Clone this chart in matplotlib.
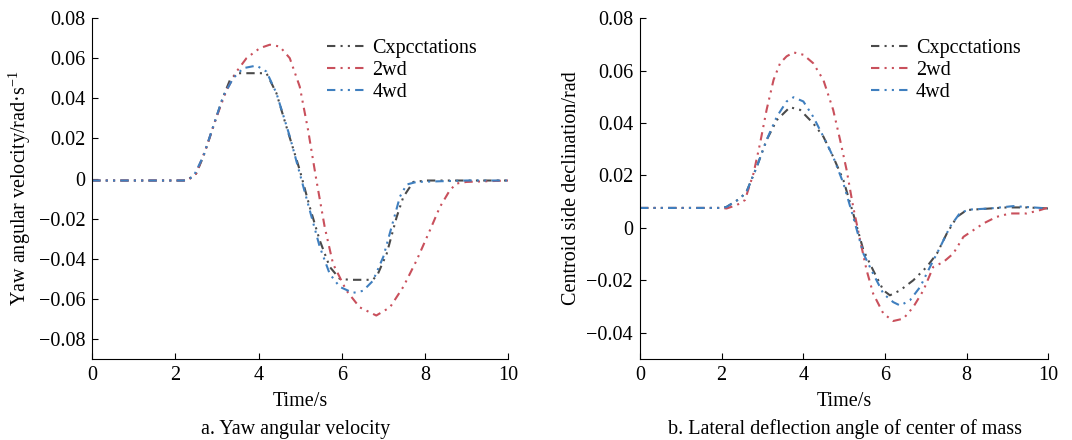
import matplotlib.pyplot as plt

plt.rcParams['font.family'] = ['Liberation Serif', 'DejaVu Serif']
plt.rcParams['mathtext.fontset'] = 'stix'
plt.rcParams['font.size'] = 14.5

labels = ['Cxpcctations', '2wd', '4wd']
colors = ['#4a4a4a', '#c9505c', '#3f7fbf']

# a. Yaw angular velocity
t_exp_a = [0, 1, 2.27, 2.5, 2.67, 2.91, 3.15, 3.31, 3.47, 3.7, 4.19, 4.43, 4.67, 4.99,
           5.23, 5.47, 5.71, 5.95, 6.19, 6.75, 6.87, 7.08, 7.32, 7.48, 7.72, 8.04, 9, 10]
y_exp_a = [-0.001, -0.001, -0.001, 0.0025, 0.0108, 0.0258, 0.0408, 0.049, 0.0525, 0.0525,
           0.0525, 0.0425, 0.0258, 0.0042, -0.0142, -0.0308, -0.044, -0.05, -0.0505,
           -0.0505, -0.0475, -0.0375, -0.0192, -0.0092, -0.0017, -0.001, -0.001, -0.001]

t_2wd_a = [0, 1, 2.3, 2.5, 2.75, 2.99, 3.23, 3.47, 3.71, 4.03, 4.27, 4.51, 4.75, 4.99,
           5.19, 5.39, 5.59, 5.79, 6.11, 6.43, 6.83, 7.16, 7.48, 7.8, 8.12, 8.36, 8.6,
           8.76, 9.0, 10]
y_2wd_a = [-0.001, -0.001, -0.001, 0.0025, 0.0158, 0.0308, 0.044, 0.0533, 0.06, 0.065,
           0.0667, 0.0658, 0.06, 0.0458, 0.0242, -0.0008, -0.0242, -0.0425, -0.0558,
           -0.0642, -0.0683, -0.0642, -0.054, -0.0408, -0.0258, -0.0142, -0.0058,
           -0.0025, -0.0017, -0.001]

t_4wd_a = [0, 1, 2.2, 2.43, 2.67, 2.91, 3.15, 3.39, 3.63, 3.95, 4.19, 4.43, 4.75, 4.99,
           5.23, 5.47, 5.71, 5.95, 6.27, 6.51, 6.75, 7.0, 7.24, 7.4, 7.56, 7.8, 9, 10]
y_4wd_a = [-0.001, -0.001, -0.001, 0.0008, 0.011, 0.026, 0.041, 0.05, 0.055, 0.0563,
           0.0533, 0.0425, 0.021, 0.0025, -0.0158, -0.034, -0.0475, -0.054, -0.057,
           -0.056, -0.051, -0.039, -0.021, -0.009, -0.003, -0.0017, -0.001, -0.001]

# b. Lateral deflection angle of center of mass
t_exp_b = [0, 1, 2.0, 2.12, 2.45, 2.61, 2.86, 3.1, 3.35, 3.67, 3.92, 4.24, 4.49, 4.73,
           4.98, 5.22, 5.47, 5.71, 5.96, 6.12, 6.37, 6.69, 7.02, 7.27, 7.51, 7.76, 8.0,
           8.57, 8.98, 9.47, 10]
y_exp_b = [0.0076, 0.0076, 0.0076, 0.008, 0.0112, 0.0138, 0.0233, 0.0335, 0.0411, 0.046,
           0.045, 0.0399, 0.0348, 0.0271, 0.0182, 0.0055, -0.0085, -0.0162, -0.0238,
           -0.0257, -0.0238, -0.02, -0.0149, -0.0098, -0.0022, 0.0042, 0.0068, 0.0074,
           0.0078, 0.0078, 0.0074]

t_2wd_b = [0, 1, 2.0, 2.12, 2.37, 2.57, 2.78, 2.94, 3.1, 3.27, 3.43, 3.59, 3.76, 4.0,
           4.24, 4.49, 4.73, 4.9, 5.06, 5.22, 5.39, 5.55, 5.71, 5.96, 6.2, 6.45, 6.69,
           6.94, 7.18, 7.43, 7.67, 7.92, 8.16, 8.41, 8.73, 9.06, 9.47, 9.8, 10]
y_2wd_b = [0.0076, 0.0076, 0.0076, 0.0074, 0.0087, 0.0106, 0.0208, 0.0322, 0.045, 0.0564,
           0.0628, 0.0654, 0.0669, 0.066, 0.0628, 0.0564, 0.045, 0.0335, 0.022, 0.008,
           -0.0047, -0.0162, -0.0251, -0.0327, -0.0355, -0.0346, -0.0302, -0.0238,
           -0.0149, -0.013, -0.0098, -0.0034, -0.0009, 0.0017, 0.0042, 0.0055, 0.0055,
           0.0068, 0.0078]

t_4wd_b = [0, 1, 2.0, 2.12, 2.45, 2.61, 2.86, 3.1, 3.35, 3.59, 3.76, 4.0, 4.24, 4.49,
           4.73, 4.98, 5.22, 5.47, 5.71, 5.96, 6.2, 6.37, 6.61, 6.86, 7.1, 7.35, 7.59,
           7.84, 8.08, 8.57, 9.14, 9.63, 10]
y_4wd_b = [0.0076, 0.0076, 0.0076, 0.008, 0.0112, 0.0138, 0.0233, 0.0335, 0.0424, 0.0482,
           0.0498, 0.0482, 0.0424, 0.0348, 0.0271, 0.017, 0.0042, -0.0098, -0.0175,
           -0.0251, -0.0283, -0.0296, -0.0276, -0.0225, -0.0149, -0.0073, 0.0004,
           0.0058, 0.007, 0.0074, 0.0083, 0.0078, 0.0074]

dash = (0, (4, 2.5, 1, 2.5, 1, 2.5))

fig = plt.figure(figsize=(10.72, 4.4), dpi=100)
ax1 = fig.add_axes([0.086, 0.184, 0.388, 0.775])
ax2 = fig.add_axes([0.597, 0.184, 0.381, 0.775])

panels = [
    (ax1, [(t_exp_a, y_exp_a), (t_2wd_a, y_2wd_a), (t_4wd_a, y_4wd_a)],
     (-0.09, 0.08), [-0.08, -0.06, -0.04, -0.02, 0, 0.02, 0.04, 0.06, 0.08],
     'Yaw angular velocity/rad·s$^{\\mathregular{-1}}$', 'a. Yaw angular velocity', 0.276),
    (ax2, [(t_exp_b, y_exp_b), (t_2wd_b, y_2wd_b), (t_4wd_b, y_4wd_b)],
     (-0.05, 0.08), [-0.04, -0.02, 0, 0.02, 0.04, 0.06, 0.08],
     'Centroid side declination/rad', 'b. Lateral deflection angle of center of mass', 0.788),
]

for ax, series, ylim, yticks, ylabel, caption, cx in panels:
    for (t, y), lab, c in zip(series, labels, colors):
        ax.plot(t, y, color=c, lw=1.5, linestyle=dash, label=lab)
    ax.set_xlim(0, 10)
    ax.set_ylim(*ylim)
    ax.set_xticks([0, 2, 4, 6, 8, 10])
    ax.set_yticks(yticks)
    ax.set_yticklabels(['0' if v == 0 else f'{v:.2f}'.replace('-', '\u2212') for v in yticks])
    ax.spines['top'].set_visible(False)
    ax.spines['right'].set_visible(False)
    ax.tick_params(direction='in', length=4, labelsize=14.5, pad=5)
    ax.set_ylabel(ylabel, fontsize=14.5, labelpad=4)
    ax.set_xlabel('Time/s', fontsize=14.5, labelpad=5)
    fig.text(cx, 1 - 429 / 440, caption, ha='center', va='center', fontsize=14.5)
    ax.legend(loc='upper left', bbox_to_anchor=(0.565, 0.94), frameon=False, fontsize=14.5,
              handlelength=2.0, labelspacing=0.15, handletextpad=0.25, borderaxespad=0,
              borderpad=0)

fig.savefig('out.png', dpi=100)
